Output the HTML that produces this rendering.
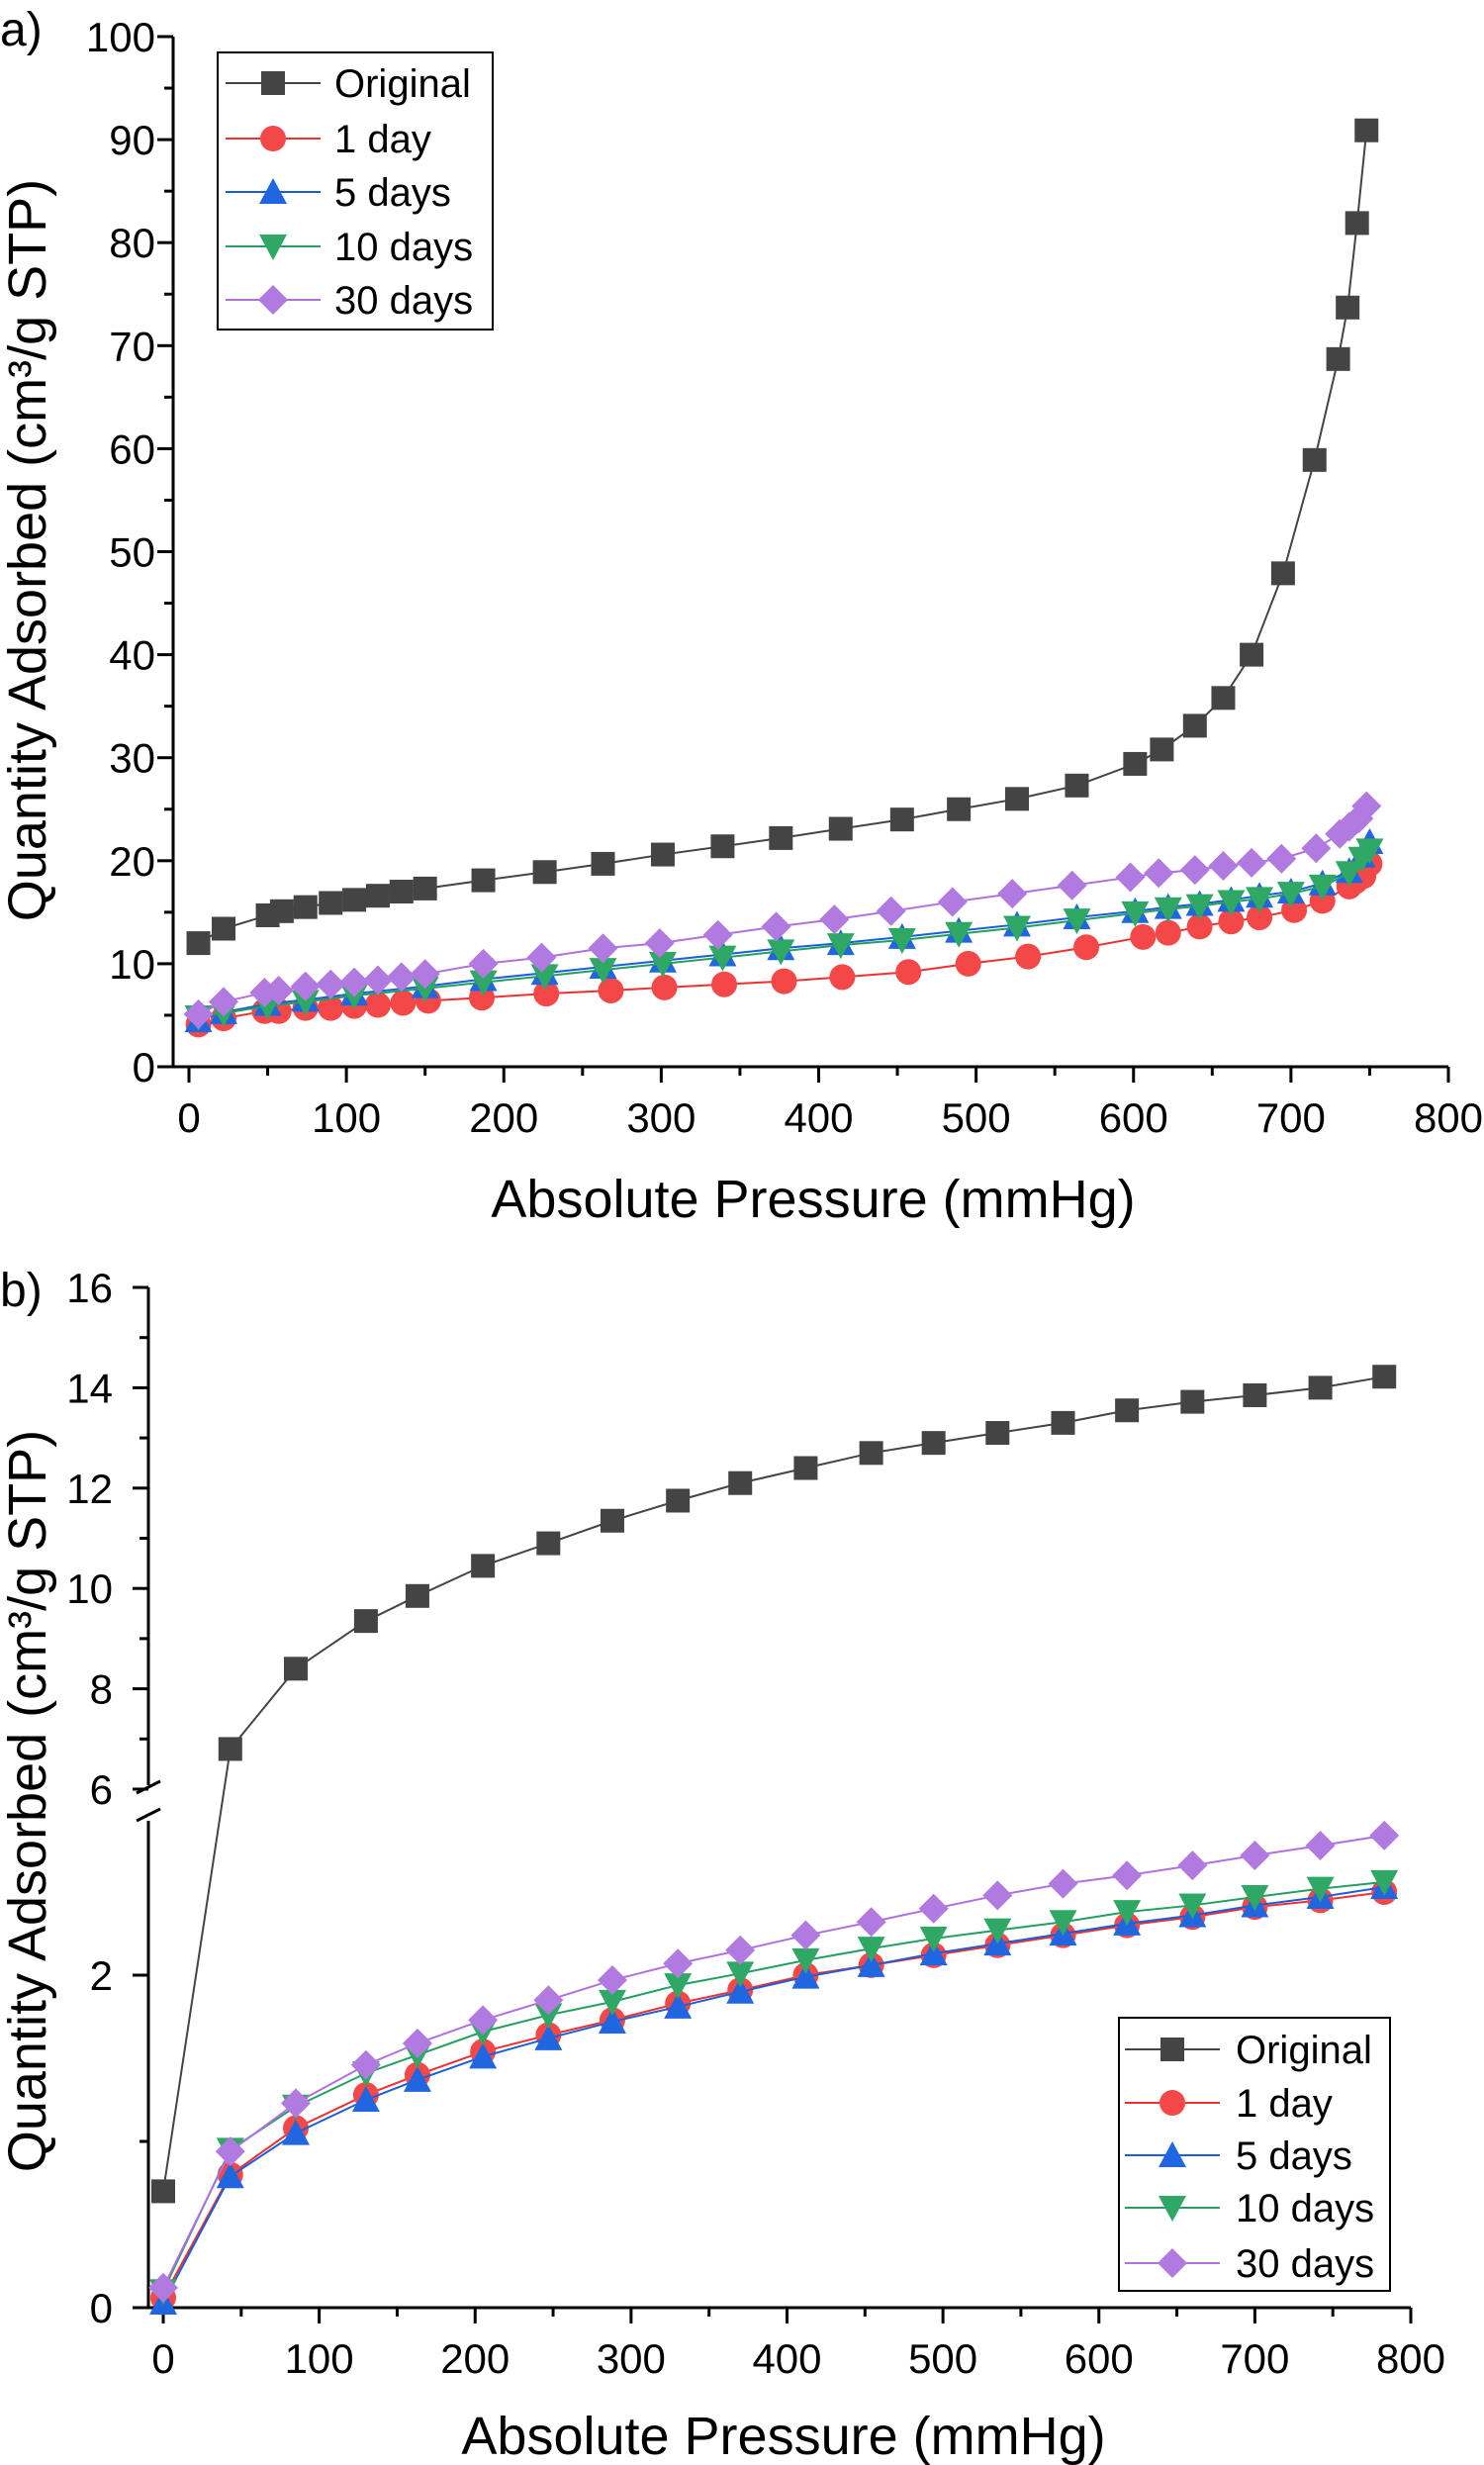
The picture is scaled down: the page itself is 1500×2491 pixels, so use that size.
<!DOCTYPE html>
<html><head><meta charset="utf-8"><style>
html,body{margin:0;padding:0;background:#fff;}
svg{display:block;font-family:"Liberation Sans",Arial,sans-serif;}
</style></head>
<body>
<svg id="fig" width="1500" height="2491" viewBox="0 0 1500 2491" xmlns="http://www.w3.org/2000/svg"></svg>
<script>
// ---------- Panel a data ----------
const aX_orig = [6,22,50,59,74,90,105,120,135,150,187,226,263,301,339,376,414,453,489,526,564,601,618,639,657,675,695,715,730,736,742,748];
const aY_orig = [12.0,13.4,14.7,15.1,15.5,15.9,16.2,16.6,17.0,17.3,18.1,18.9,19.7,20.6,21.4,22.2,23.1,24.0,25.0,26.0,27.3,29.4,30.8,33.1,35.8,40.0,47.9,58.9,68.7,73.7,81.9,90.9];
const aX_1d = [6,22,48,57,74,90,105,120,136,152,186,227,268,302,340,378,415,457,495,533,570,606,622,642,662,680,702,720,737,741,746,750];
const aY_1d = [4.1,4.7,5.4,5.4,5.7,5.7,5.9,6.0,6.2,6.4,6.7,7.1,7.4,7.7,8.0,8.3,8.7,9.2,10.0,10.7,11.6,12.6,13.0,13.6,14.1,14.5,15.2,16.1,17.5,18.0,18.5,19.7];
const aX_mid = [6,22,50,74,105,150,187,226,263,301,339,376,414,453,489,526,564,601,622,642,662,680,700,720,737,745,750];
const aY_5d = [4.5,5.3,6.1,6.5,7.1,7.8,8.5,9.1,9.7,10.3,10.9,11.5,12.0,12.6,13.2,13.8,14.5,15.1,15.5,15.8,16.2,16.6,17.0,17.8,19.0,20.5,21.8];
const aY_10d = [4.8,5.2,5.9,6.3,6.9,7.6,8.2,8.8,9.4,10.0,10.6,11.2,11.8,12.3,12.9,13.5,14.2,14.9,15.3,15.6,16.0,16.3,16.8,17.5,18.8,20.2,21.0];
const aX_30d = [6,22,48,57,74,90,105,120,135,150,187,224,263,299,336,373,410,446,485,523,561,598,616,639,657,675,694,716,731,737,743,748];
const aY_30d = [5.1,6.3,7.2,7.4,7.8,8.0,8.2,8.4,8.7,9.0,10.0,10.6,11.5,12.0,12.8,13.6,14.3,15.1,16.0,16.8,17.6,18.4,18.8,19.1,19.5,19.8,20.2,21.2,22.6,23.3,24.1,25.3];
const aYTicks = [0,10,20,30,40,50,60,70,80,90,100];
const aXTicks = [0,100,200,300,400,500,600,700,800];
// ---------- Panel b data ----------
const bX = [0,43,85,130,163,205,247,288,330,370,412,454,494,535,577,618,660,700,742,783];
const bY_orig = [0.70,6.8,8.4,9.35,9.85,10.45,10.9,11.35,11.75,12.1,12.4,12.7,12.9,13.1,13.3,13.55,13.72,13.85,14.0,14.22];
const bY_1d = [0.06,0.80,1.08,1.28,1.40,1.54,1.64,1.73,1.83,1.91,2.00,2.06,2.12,2.18,2.24,2.30,2.35,2.41,2.45,2.50];
const bY_5d = [0.03,0.79,1.05,1.25,1.37,1.51,1.62,1.72,1.81,1.90,1.99,2.06,2.13,2.19,2.25,2.31,2.36,2.42,2.47,2.53];
const bY_10d = [0.10,0.95,1.21,1.41,1.52,1.66,1.76,1.84,1.94,2.01,2.09,2.16,2.22,2.27,2.32,2.38,2.42,2.47,2.52,2.56];
const bY_30d = [0.12,0.94,1.23,1.46,1.59,1.73,1.85,1.97,2.07,2.15,2.24,2.32,2.40,2.48,2.55,2.60,2.66,2.72,2.78,2.84];
const bYTicksUpper = [6,8,10,12,14,16];
const bYTicksLower = [0,2];
const bXTicks = [0,100,200,300,400,500,600,700,800];
const seriesNames = ["Original","1 day","5 days","10 days","30 days"];

const NS="http://www.w3.org/2000/svg";
const svg=document.getElementById('fig');
function mk(tag,attrs,parent){const e=document.createElementNS(NS,tag);for(const k in attrs)e.setAttribute(k,attrs[k]);(parent||svg).appendChild(e);return e;}
const styles=[
 {line:"#444",fill:"#444",shape:"square"},
 {line:"#f03030",fill:"#f44848",shape:"circle"},
 {line:"#1a5fd8",fill:"#1f66e0",shape:"up"},
 {line:"#21a060",fill:"#2fa866",shape:"down"},
 {line:"#b070e0",fill:"#b07ae0",shape:"diamond"}
];
function marker(g,shape,cx,cy,col){
  const s=12;let el;
  if(shape==="square") el=mk('rect',{x:cx-s,y:cy-s,width:2*s,height:2*s,fill:col},g);
  else if(shape==="circle") el=mk('circle',{cx:cx,cy:cy,r:s+1,fill:col},g);
  else if(shape==="up") el=mk('polygon',{points:`${cx},${cy-s-2} ${cx+s+2},${cy+s} ${cx-s-2},${cy+s}`,fill:col},g);
  else if(shape==="down") el=mk('polygon',{points:`${cx},${cy+s+2} ${cx+s+2},${cy-s} ${cx-s-2},${cy-s}`,fill:col},g);
  else el=mk('polygon',{points:`${cx},${cy-s-3} ${cx+s+3},${cy} ${cx},${cy+s+3} ${cx-s-3},${cy}`,fill:col},g);
  return el;
}
function drawSeries(xs,ys,sx,sy,st,name){
  const g=mk('g',{});
  
  
  const pts=xs.map((x,i)=>sx(x)+","+sy(ys[i])).join(" ");
  mk('polyline',{points:pts,fill:"none",stroke:st.line,"stroke-width":2},g);
  xs.forEach((x,i)=>{const m=marker(g,st.shape,sx(x),sy(ys[i]),st.fill);
    
    });
}
function text(t,x,y,attrs,name){const e=mk('text',Object.assign({x:x,y:y,fill:"#000"},attrs));e.textContent=t;
  
  return e;}
function legend(x0,y0,w,h,rows,markX,textX,name){
  const g=mk('g',{});
  
  
  mk('rect',{x:x0,y:y0,width:w,height:h,fill:"#fff",stroke:"#000","stroke-width":2},g);
  rows.forEach((ry,i)=>{
    mk('line',{x1:markX-48,x2:markX+48,y1:ry,y2:ry,stroke:styles[i].line,"stroke-width":2},g);
    marker(g,styles[i].shape,markX,ry,styles[i].fill);
    const t=mk('text',{x:textX,y:ry+14,"font-size":40,fill:"#000"},g);t.textContent=seriesNames[i];
    
    
  });
}

// ===== Panel a =====
const aL=175,aR=1464,aT=37,aB=1078,ax0=191,ax800=1464;
const aSX=v=>ax0+(v/800)*(ax800-ax0);
const aSY=v=>aB-(v/100)*(aB-aT);
mk('line',{x1:aL,x2:aL,y1:aT,y2:aB+1.5,stroke:"#000","stroke-width":3});
mk('line',{x1:aL,x2:aR,y1:aB,y2:aB,stroke:"#000","stroke-width":3});
for(let v=0;v<=100;v+=5){const y=aSY(v);mk('line',{x1:aL-(v%10===0?16:9),x2:aL,y1:y,y2:y,stroke:"#000","stroke-width":3});}
aYTicks.forEach(v=>text(String(v),aL-18,aSY(v)+15,{"font-size":42,"text-anchor":"end"},'y-tick-label'));
for(let v=0;v<=800;v+=50){const x=aSX(v);mk('line',{x1:x,x2:x,y1:aB,y2:aB+(v%100===0?16:9),stroke:"#000","stroke-width":3});}
aXTicks.forEach(v=>text(String(v),aSX(v),aB+66,{"font-size":42,"text-anchor":"middle"},'x-tick-label'));
text("a)",0,46,{"font-size":48},'panel-a-label');
text("Absolute Pressure (mmHg)",822,1230,{"font-size":54,"text-anchor":"middle"},'x-axis-title-a');
text("Quantity Adsorbed (cm³/g STP)",0,0,{"font-size":54,"text-anchor":"middle",transform:"translate(46,556) rotate(-90)"},'y-axis-title-a');
drawSeries(aX_orig,aY_orig,aSX,aSY,styles[0],'series-a-original');
drawSeries(aX_1d,aY_1d,aSX,aSY,styles[1],'series-a-1day');
drawSeries(aX_mid,aY_5d,aSX,aSY,styles[2],'series-a-5days');
drawSeries(aX_mid,aY_10d,aSX,aSY,styles[3],'series-a-10days');
drawSeries(aX_30d,aY_30d,aSX,aSY,styles[4],'series-a-30days');
legend(220,53,278,280,[84,140,194,249,303],276,338,'legend-a');

// ===== Panel b =====
const bL=150,bR=1426,bTop=1301,bBrkU=1808,bBrkL=1836,bB=2332,bx0=165,bx800=1426;
const bSX=v=>bx0+(v/800)*(bx800-bx0);
const lowMax=(bB-bBrkL)/168;
const bSY=v=> v<=lowMax+0.3 ? bB-v*168 : bBrkU-(v-6)*((bBrkU-bTop)/10);
const bSYup=v=>bBrkU-(v-6)*((bBrkU-bTop)/10);
mk('line',{x1:bL,x2:bL,y1:bTop,y2:bBrkU-4,stroke:"#000","stroke-width":3});
mk('line',{x1:bL,x2:bL,y1:bBrkL+4,y2:bB+1.5,stroke:"#000","stroke-width":3});
mk('line',{x1:bL-12,x2:bL+12,y1:bBrkU+4,y2:bBrkU-8,stroke:"#000","stroke-width":3});
mk('line',{x1:bL-12,x2:bL+12,y1:bBrkL+4,y2:bBrkL-8,stroke:"#000","stroke-width":3});
mk('line',{x1:bL,x2:bR,y1:bB,y2:bB,stroke:"#000","stroke-width":3});
for(let v=6;v<=16;v+=1){const y=bSYup(v);mk('line',{x1:bL-(v%2===0?16:9),x2:bL,y1:y,y2:y,stroke:"#000","stroke-width":3});}
for(let v=0;v<=2;v+=1){const y=bB-v*168;mk('line',{x1:bL-(v%2===0?16:9),x2:bL,y1:y,y2:y,stroke:"#000","stroke-width":3});}
bYTicksUpper.forEach(v=>text(String(v),bL-36,bSYup(v)+15,{"font-size":42,"text-anchor":"end"},'y-tick-label'));
bYTicksLower.forEach(v=>text(String(v),bL-36,bB-v*168+15,{"font-size":42,"text-anchor":"end"},'y-tick-label'));
for(let v=0;v<=800;v+=50){const x=bSX(v);mk('line',{x1:x,x2:x,y1:bB,y2:bB+(v%100===0?16:9),stroke:"#000","stroke-width":3});}
bXTicks.forEach(v=>text(String(v),bSX(v),bB+66,{"font-size":42,"text-anchor":"middle"},'x-tick-label'));
text("b)",0,1320,{"font-size":48},'panel-b-label');
text("Absolute Pressure (mmHg)",792,2480,{"font-size":54,"text-anchor":"middle"},'x-axis-title-b');
text("Quantity Adsorbed (cm³/g STP)",0,0,{"font-size":54,"text-anchor":"middle",transform:"translate(46,1820) rotate(-90)"},'y-axis-title-b');
drawSeries(bX,bY_orig,bSX,bSY,styles[0],'series-b-original');
drawSeries(bX,bY_1d,bSX,bSY,styles[1],'series-b-1day');
drawSeries(bX,bY_5d,bSX,bSY,styles[2],'series-b-5days');
drawSeries(bX,bY_10d,bSX,bSY,styles[3],'series-b-10days');
drawSeries(bX,bY_30d,bSX,bSY,styles[4],'series-b-30days');
legend(1131,2039,274,276,[2071,2125,2178,2231,2287],1185,1249,'legend-b');
</script>
</body></html>
